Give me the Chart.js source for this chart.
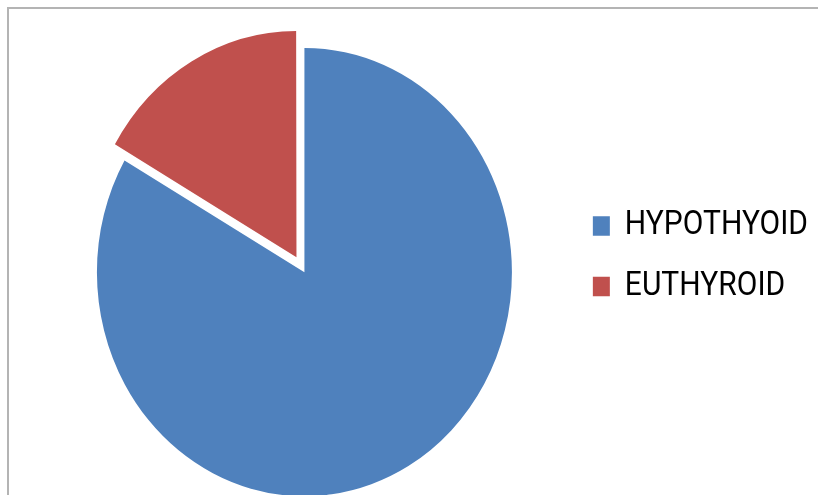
<!DOCTYPE html>
<html>
<head>
<meta charset="utf-8">
<script src="https://cdn.jsdelivr.net/npm/chart.js@4/dist/chart.umd.min.js"></script>
<style>
  html, body { margin: 0; padding: 0; background: #ffffff; overflow: hidden; }
  #wrap { position: relative; width: 818px; height: 495px; }
</style>
</head>
<body>
<div id="wrap"><canvas id="c" width="818" height="495"></canvas></div>
<script>
// Thyroid status split
const categories = ['HYPOTHYOID', 'EUTHYROID'];
const shares = [83.3, 16.7];
const sliceColors = ['#4f81bd', '#c0504d'];
// Chart.js moves an arc by roughly offset/4 (plus a small extra for narrow
// slices), so this pulls the EUTHYROID slice out by about 18px.
const sliceOffsets = [0, 63.5];

// The pie is drawn slightly taller than wide; everything is painted in a
// coordinate space stretched vertically by this factor.
const STRETCH_Y = 1.08;

const frameAndStretch = {
  id: 'frameAndStretch',
  beforeDraw(chart) {
    const ctx = chart.ctx;
    // light grey frame running off the right and bottom edges
    ctx.save();
    ctx.strokeStyle = '#b4b4b4';
    ctx.lineWidth = 2;
    ctx.strokeRect(8, 8, 1200, 1200);
    ctx.restore();
    ctx.save();
    ctx.scale(1, STRETCH_Y);
  },
  afterDraw(chart) {
    chart.ctx.restore();
  }
};

new Chart(document.getElementById('c'), {
  type: 'pie',
  data: {
    labels: categories,
    datasets: [{
      data: shares,
      backgroundColor: sliceColors,
      borderWidth: 0,
      offset: sliceOffsets,
      hoverOffset: 0,
      clip: false
    }]
  },
  options: {
    responsive: false,
    animation: false,
    events: [],
    radius: 207.5,
    layout: {
      padding: { left: 42, right: 0, top: 168.3, bottom: 159.3 }
    },
    plugins: {
      tooltip: { enabled: false },
      legend: {
        position: 'right',
        align: 'start',
        labels: {
          boxWidth: 17,
          boxHeight: 18,
          padding: 26,
          color: '#000000',
          font: { family: 'Roboto', size: 30 }
        }
      }
    }
  },
  plugins: [frameAndStretch]
});
</script>
</body>
</html>
